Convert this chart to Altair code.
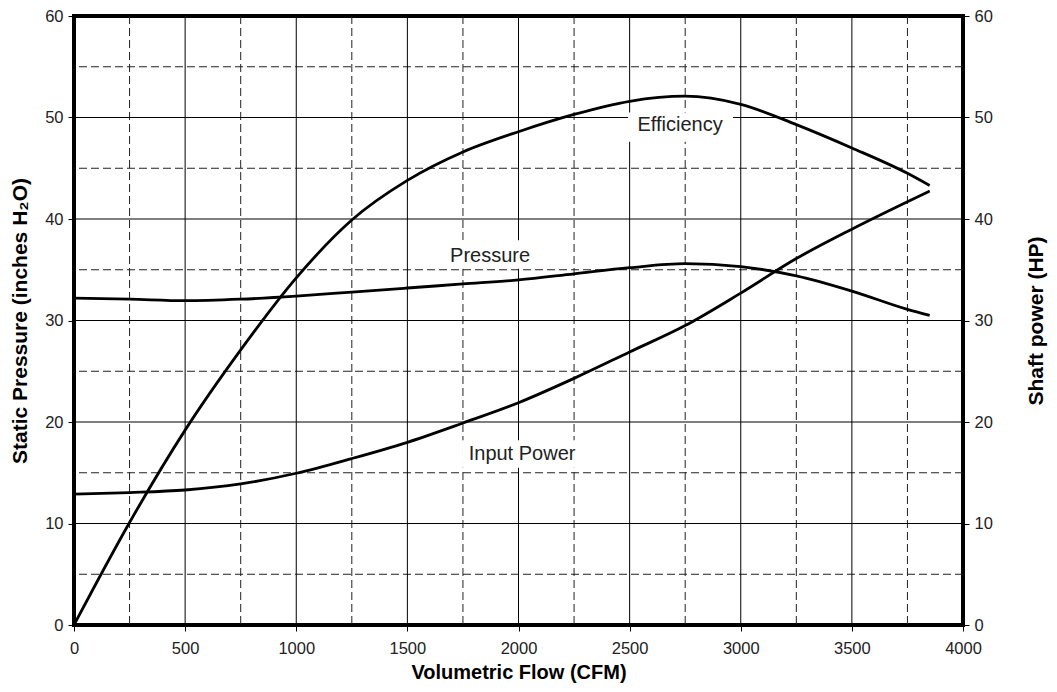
import altair as alt
import pandas as pd

# ---- data ----
flow = [0, 250, 500, 750, 1000, 1250, 1500, 1750, 2000, 2250, 2500, 2750, 3000, 3250, 3500, 3750, 3850]
efficiency = [0, 10.1, 19.2, 27.1, 34.2, 39.9, 43.8, 46.6, 48.6, 50.3, 51.6, 52.1, 51.3, 49.3, 47.0, 44.5, 43.3]
pressure = [32.2, 32.1, 31.95, 32.1, 32.4, 32.8, 33.2, 33.6, 34.0, 34.6, 35.2, 35.6, 35.3, 34.4, 32.9, 31.1, 30.5]
input_power = [12.9, 13.05, 13.3, 13.9, 14.95, 16.4, 18.0, 19.9, 21.9, 24.3, 26.9, 29.5, 32.7, 36.1, 39.0, 41.7, 42.75]

major_x = [0, 500, 1000, 1500, 2000, 2500, 3000, 3500, 4000]
minor_x = [250, 750, 1250, 1750, 2250, 2750, 3250, 3750]
major_y = [0, 10, 20, 30, 40, 50, 60]
minor_y = [5, 15, 25, 35, 45, 55]

label_text = ["Efficiency", "Pressure", "Input Power"]
label_x = [2727, 1872, 2016]
label_y = [49.3, 36.4, 16.85]
box_x = [2493, 1669, 1746]
box_x2 = [2965, 2074, 2277]
box_y = [47.6, 35.1, 15.5]
box_y2 = [50.5, 37.9, 18.2]

FONT = "Liberation Sans"
TXT = "#222222"

curves = pd.DataFrame({
    "flow": flow * 2,
    "value": efficiency + pressure,
    "series": ["Efficiency"] * len(flow) + ["Pressure"] * len(flow),
})
power = pd.DataFrame({"flow": flow, "value": input_power})
labels = pd.DataFrame({"text": label_text, "x": label_x, "y": label_y,
                       "bx": box_x, "bx2": box_x2, "by": box_y, "by2": box_y2})

xs = alt.Scale(domain=[0, 4000], nice=False, zero=False)
ys = alt.Scale(domain=[0, 60], nice=False, zero=False)

x_axis = alt.Axis(values=major_x, format="d", grid=False, domain=False,
                  tickSize=6, tickColor="black", tickWidth=1, labelFlush=False,
                  labelFont=FONT, labelFontSize=16.5, labelColor=TXT, labelPadding=9,
                  title="Volumetric Flow (CFM)", titleFont=FONT, titleFontSize=20,
                  titleFontWeight="bold", titleColor="black", titlePadding=6)
yl_axis = alt.Axis(values=major_y, format="d", grid=False, domain=False, orient="left",
                   tickSize=6, tickColor="black", tickWidth=1, labelFlush=False,
                   labelFont=FONT, labelFontSize=16.5, labelColor=TXT, labelPadding=5,
                   title="Static Pressure (inches H₂O)", titleFont=FONT, titleFontSize=21,
                   titleFontWeight="bold", titleColor="black", titlePadding=14)
yr_axis = alt.Axis(values=major_y, format="d", grid=False, domain=False, orient="right",
                   tickSize=6, tickColor="black", tickWidth=1, labelFlush=False,
                   labelFont=FONT, labelFontSize=16.5, labelColor=TXT, labelPadding=5,
                   title="Shaft power (HP)", titleFont=FONT, titleFontSize=21,
                   titleFontWeight="bold", titleColor="black", titlePadding=54,
                   titleAngle=270)

X = lambda f: alt.X(f, scale=xs, axis=x_axis)

minor_vx = alt.Chart(pd.DataFrame({"v": minor_x})).mark_rule(
    color="#222222", strokeWidth=1, strokeDash=[8, 4]).encode(x=X("v:Q"))
minor_hy = alt.Chart(pd.DataFrame({"v": minor_y})).mark_rule(
    color="#222222", strokeWidth=1, strokeDash=[8, 4]).encode(
    y=alt.Y("v:Q", scale=ys, axis=None))
major_vx = alt.Chart(pd.DataFrame({"v": major_x})).mark_rule(
    color="#000000", strokeWidth=1).encode(x=X("v:Q"))
major_hy = alt.Chart(pd.DataFrame({"v": major_y})).mark_rule(
    color="#000000", strokeWidth=1).encode(
    y=alt.Y("v:Q", scale=ys, axis=None))

boxes = alt.Chart(labels).mark_rect(color="white").encode(
    x=X("bx:Q"), x2="bx2:Q",
    y=alt.Y("by:Q", scale=ys, axis=None), y2="by2:Q")

left_lines = alt.Chart(curves).mark_line(
    color="black", strokeWidth=2.8, interpolate="monotone").encode(
    x=X("flow:Q"),
    y=alt.Y("value:Q", scale=ys, axis=yl_axis),
    detail="series:N")

power_line = alt.Chart(power).mark_line(
    color="black", strokeWidth=2.8, interpolate="monotone").encode(
    x=X("flow:Q"),
    y=alt.Y("value:Q", scale=ys, axis=yr_axis))

texts = alt.Chart(labels).mark_text(
    font=FONT, fontSize=20, color=TXT, align="center", baseline="middle").encode(
    x=X("x:Q"),
    y=alt.Y("y:Q", scale=ys, axis=None),
    text="text:N")

chart = alt.layer(
    minor_vx, minor_hy, major_vx, major_hy, boxes, left_lines, power_line, texts
).resolve_scale(y="independent").properties(
    width=889, height=609,
    autosize=alt.AutoSizeParams(type="none"),
    padding={"left": 66, "top": 8, "right": 86, "bottom": 59},
    background="white",
).configure_view(stroke="black", strokeWidth=4)

chart.save("out.html", embed_options={"renderer": "svg", "actions": False})
